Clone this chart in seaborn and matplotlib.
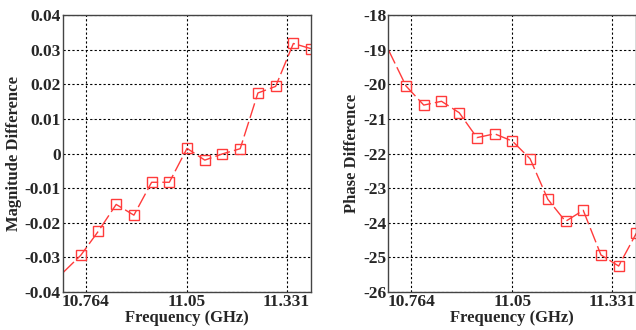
import matplotlib
matplotlib.use("Agg")
import matplotlib.pyplot as plt
import seaborn as sns
import pandas as pd

freq = [10.70, 10.75, 10.80, 10.85, 10.90, 10.95, 11.00, 11.05, 11.10, 11.15,
        11.20, 11.25, 11.30, 11.35, 11.40]
mag_diff = [-0.0344, -0.0294, -0.0224, -0.0147, -0.0178, -0.0083, -0.0083, 0.0015,
            -0.0019, -0.0001, 0.0014, 0.0175, 0.0194, 0.0318, 0.0303]
phase_diff = [-19.0, -20.05, -20.6, -20.49, -20.82, -21.54, -21.43, -21.64,
              -22.15, -23.32, -23.96, -23.64, -24.93, -25.25, -24.3]
xticks = [10.764, 11.05, 11.331]
xtick_labels = ["10.764", "11.05", "11.331"]
mag_yticks = [-0.04, -0.03, -0.02, -0.01, 0, 0.01, 0.02, 0.03, 0.04]
mag_ylabels = ["-0.04", "-0.03", "-0.02", "-0.01", "0", "0.01", "0.02", "0.03", "0.04"]
phase_yticks = [-26, -25, -24, -23, -22, -21, -20, -19, -18]
phase_ylabels = [str(v) for v in phase_yticks]

sns.set_style("white")
plt.rcParams['font.family'] = ['Liberation Serif', 'DejaVu Serif']
plt.rcParams['font.weight'] = 'bold'

df = pd.DataFrame({"freq": freq, "mag": mag_diff, "phase": phase_diff})

fig = plt.figure(figsize=(6.36, 3.30), dpi=100)
ax1 = fig.add_axes([0.0991, 0.1152, 0.390, 0.839])
ax2 = fig.add_axes([0.6106, 0.1152, 0.390, 0.839])

red = "#ff3b3b"
for ax, col, yt, yl, lab, ylim in [
    (ax1, "mag", mag_yticks, mag_ylabels, "Magnitude Difference", (-0.04, 0.04)),
    (ax2, "phase", phase_yticks, phase_ylabels, "Phase Difference", (-26, -18)),
]:
    sns.lineplot(data=df, x="freq", y=col, ax=ax, color=red, linewidth=1.0,
                 dashes=False, linestyle=(0, (11, 3)), marker="s", markersize=7,
                 markerfacecolor="none", markeredgecolor=red, markeredgewidth=1.0,
                 markevery=list(range(1, len(freq))))
    ax.set_xlim(10.70, 11.40)
    ax.set_ylim(*ylim)
    ax.set_xticks(xticks)
    ax.set_xticklabels(xtick_labels, fontsize=12.5, fontweight="bold")
    ax.set_yticks(yt)
    ax.set_yticklabels(yl, fontsize=12.5, fontweight="bold")
    ax.grid(True, color="black", linestyle=(0, (2, 2)), linewidth=0.8)
    ax.tick_params(length=2, direction="in", pad=1.5, color="#444444")
    ax.set_xlabel("Frequency (GHz)", fontsize=12, fontweight="bold", labelpad=0)
    ax.set_ylabel(lab, fontsize=12, fontweight="bold", labelpad=2)
    for s in ax.spines.values():
        s.set_color("#444444")
        s.set_linewidth(1.0)

fig.savefig("out.png", dpi=100)
